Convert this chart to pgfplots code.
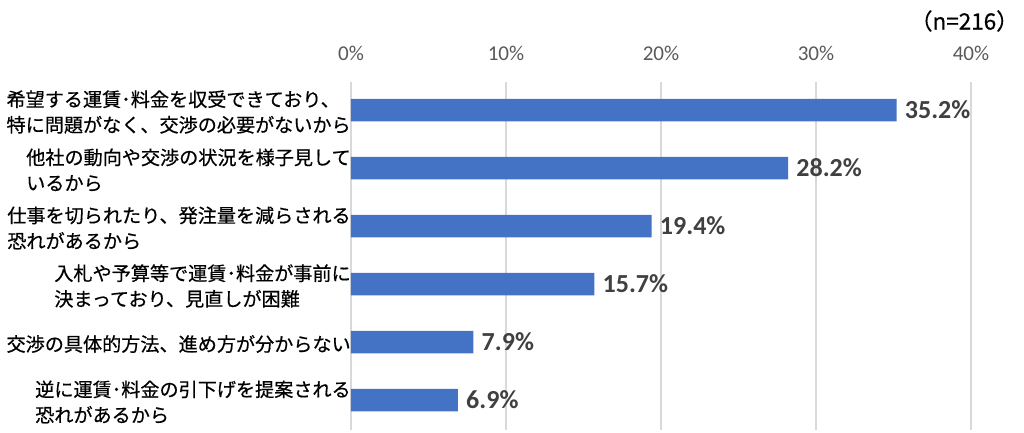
\documentclass[border=0pt]{standalone}
\usepackage{pgfplots}
\pgfplotsset{compat=1.18}
\usepackage{fontspec}
\setmainfont{Carlito}
\newfontfamily\cjk[FakeBold=0.5]{Noto Sans CJK JP}
\definecolor{barblue}{HTML}{4472C4}
\definecolor{gridgray}{HTML}{D9D9D9}
\definecolor{tickgray}{HTML}{595959}
\definecolor{valgray}{HTML}{404040}
\begin{document}
\begin{tikzpicture}
\useasboundingbox (0,0) rectangle (25.6cm,10.825cm);
\begin{axis}[
  at={(8.775cm,0.075cm)}, anchor=south west,
  scale only axis, width=15.5cm, height=8.7cm,
  xbar, bar width=0.5625cm,
  xmin=0, xmax=40, ymin=-0.483, ymax=5.517, y dir=reverse,
  axis line style={draw=none},
  major tick length=0pt,
  xmajorgrids, grid style={gridgray, line width=1.3pt},
  xtick={0,10,20,30,40},
  xticklabel pos=upper,
  xticklabel={\pgfmathprintnumber{\tick}\%},
  /pgf/number format/assume math mode=true,
  xticklabel style={font=\fontsize{15}{17}\selectfont, text=tickgray, yshift=0.4cm},
  ytick={0,...,5},
  yticklabels={
    {希望する運賃･料金を収受できており、\\特に問題がなく、交渉の必要がないから},
    {他社の動向や交渉の状況を様子見して\\いるから},
    {仕事を切られたり、発注量を減らされる\\恐れがあるから},
    {入札や予算等で運賃･料金が事前に\\決まっており、見直しが困難},
    {交渉の具体的方法、進め方が分からない},
    {逆に運賃･料金の引下げを提案される\\恐れがあるから}},
  yticklabel style={font=\cjk\fontsize{13.6}{18.2}\selectfont, align=left, anchor=east, inner sep=0pt, text=black, yshift=-0.05cm},
  nodes near coords={\pgfmathprintnumber[fixed,precision=1,fixed zerofill]{\pgfplotspointmeta}\%},
  nodes near coords style={font=\bfseries\fontsize{18.5}{20}\selectfont, text=valgray, anchor=west, inner sep=0pt, xshift=0.2cm},
]
\addplot[fill=barblue, draw=none] coordinates {(35.2,0) (28.2,1) (19.4,2) (15.7,3) (7.9,4) (6.9,5)};
\end{axis}
\node[anchor=east, font=\cjk\fontsize{16}{18}\selectfont, inner sep=0pt] at (25.475cm,10.3cm) {（n=216）};
\end{tikzpicture}
\end{document}
